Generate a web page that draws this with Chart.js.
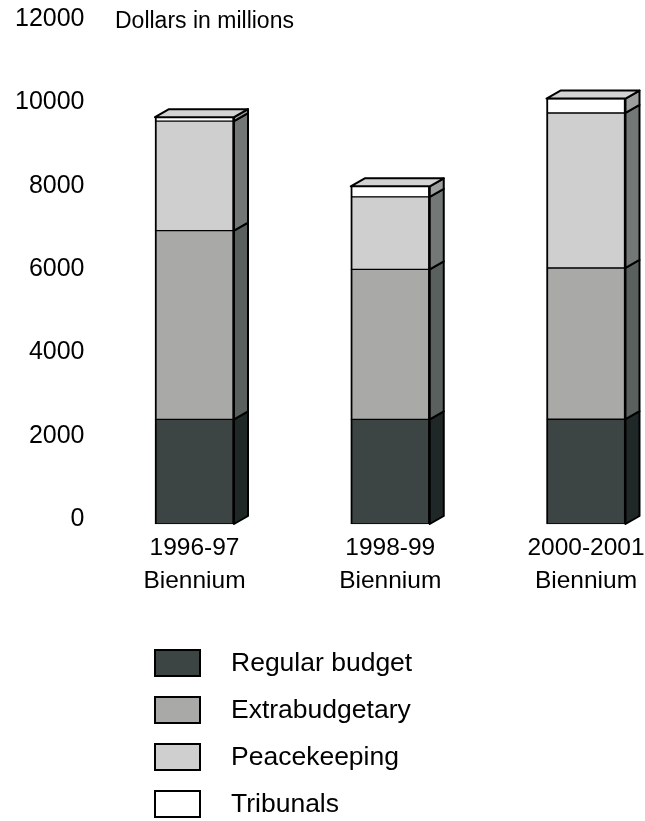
<!DOCTYPE html>
<html>
<head>
<meta charset="utf-8">
<script src="https://cdn.jsdelivr.net/npm/chart.js@4.4.1/dist/chart.umd.min.js"></script>
<style>
  html, body { margin: 0; padding: 0; background: #fff; }
  canvas { display: block; }
</style>
</head>
<body>
<canvas id="budgetChart" width="645" height="821"></canvas>
<script>
// Biennium totals, dollars in millions
const periods = [['1996-97', 'Biennium'], ['1998-99', 'Biennium'], ['2000-2001', 'Biennium']];
const seriesNames = ['Regular budget', 'Extrabudgetary', 'Peacekeeping', 'Tribunals'];
const regularBudget = [2510, 2510, 2515];
const extrabudgetary = [4530, 3600, 3630];
const peacekeeping = [2630, 1740, 3720];
const tribunals = [95, 255, 345];
const yTickValues = [0, 2000, 4000, 6000, 8000, 10000, 12000];
const axisTitle = 'Dollars in millions';

const frontColors = ['#3d4544', '#a9aaa8', '#cfcfcf', '#ffffff'];
const sideColors = ['#1f2727', '#59605e', '#737877', '#9d9f9e'];
const topColor = '#d2d3d2';
const FONT = "'Liberation Sans', Arial, sans-serif";
const DEPTH_X = 14;
const DEPTH_Y = 8;

// side and top faces so the stacked columns look like boxes
const boxes3d = {
  id: 'boxes3d',
  afterDatasetsDraw(chart) {
    const ctx = chart.ctx;
    const count = chart.data.datasets.length;
    ctx.save();
    ctx.lineWidth = 2;
    ctx.lineJoin = 'round';
    ctx.strokeStyle = '#000';

    for (let d = 0; d < count; d++) {
      chart.getDatasetMeta(d).data.forEach(bar => {
        const { x, y, base, width } = bar.getProps(['x', 'y', 'base', 'width'], true);
        const right = x + width / 2;
        const top = Math.min(y, base);
        const bottom = Math.max(y, base);
        ctx.beginPath();
        ctx.moveTo(right, top);
        ctx.lineTo(right + DEPTH_X, top - DEPTH_Y);
        ctx.lineTo(right + DEPTH_X, bottom - DEPTH_Y);
        ctx.lineTo(right, bottom);
        ctx.closePath();
        ctx.fillStyle = sideColors[d];
        ctx.fill();
        ctx.stroke();
      });
    }

    chart.getDatasetMeta(count - 1).data.forEach(bar => {
      const { x, y, width } = bar.getProps(['x', 'y', 'width'], true);
      const left = x - width / 2;
      const right = x + width / 2;
      ctx.beginPath();
      ctx.moveTo(left, y);
      ctx.lineTo(left + DEPTH_X, y - DEPTH_Y);
      ctx.lineTo(right + DEPTH_X, y - DEPTH_Y);
      ctx.lineTo(right, y);
      ctx.closePath();
      ctx.fillStyle = topColor;
      ctx.fill();
      ctx.stroke();
    });
    ctx.restore();
  }
};

// unit caption and the stacked legend underneath
const captionAndLegend = {
  id: 'captionAndLegend',
  afterDraw(chart) {
    const ctx = chart.ctx;
    ctx.save();
    ctx.fillStyle = '#000';
    ctx.font = `23px ${FONT}`;
    ctx.textBaseline = 'alphabetic';
    ctx.fillText(axisTitle, 115, 28);

    ctx.font = `26.5px ${FONT}`;
    ctx.textBaseline = 'middle';
    ctx.lineWidth = 2;
    ctx.strokeStyle = '#000';
    seriesNames.forEach((name, i) => {
      const top = 650 + i * 47;
      ctx.fillStyle = frontColors[i];
      ctx.fillRect(155, top, 45, 26);
      ctx.strokeRect(155, top, 45, 26);
      ctx.fillStyle = '#000';
      ctx.fillText(name, 231, top + 14);
    });
    ctx.restore();
  }
};

const seriesValues = [regularBudget, extrabudgetary, peacekeeping, tribunals];

new Chart(document.getElementById('budgetChart'), {
  type: 'bar',
  data: {
    labels: periods,
    datasets: seriesNames.map((name, i) => ({
      label: name,
      data: seriesValues[i],
      backgroundColor: frontColors[i],
      borderColor: '#000',
      borderWidth: { top: 1, bottom: 1, left: 2, right: 2 },
      borderSkipped: false,
      barThickness: 79,
      clip: false
    }))
  },
  options: {
    responsive: false,
    animation: false,
    layout: { padding: { left: 0, right: 59, top: 24, bottom: 223 } },
    plugins: {
      legend: { display: false },
      tooltip: { enabled: false }
    },
    scales: {
      x: {
        stacked: true,
        offset: false,
        grid: { display: false, drawTicks: false },
        border: { display: false },
        ticks: {
          color: '#000',
          padding: 7.5,
          maxRotation: 0,
          autoSkip: false,
          font: { family: FONT, size: 24.5, lineHeight: 1.35 }
        },
        afterFit(scale) {
          scale.height = 74;
          scale.paddingLeft = 0;
          scale.paddingRight = 0;
        }
      },
      y: {
        stacked: true,
        min: 0,
        max: 12000,
        grid: { display: false, drawTicks: false },
        border: { display: false },
        afterBuildTicks(scale) {
          scale.ticks = yTickValues.map(v => ({ value: v }));
        },
        ticks: {
          color: '#000',
          padding: 110,
          labelOffset: -5,
          font: { family: FONT, size: 25 },
          callback: v => String(v)
        },
        afterFit(scale) {
          // wide gap between the labels and the first column
          scale.width = 194.5;
          scale.paddingTop = 0;
          scale.paddingBottom = 0;
        }
      }
    }
  },
  plugins: [boxes3d, captionAndLegend]
});
</script>
</body>
</html>
